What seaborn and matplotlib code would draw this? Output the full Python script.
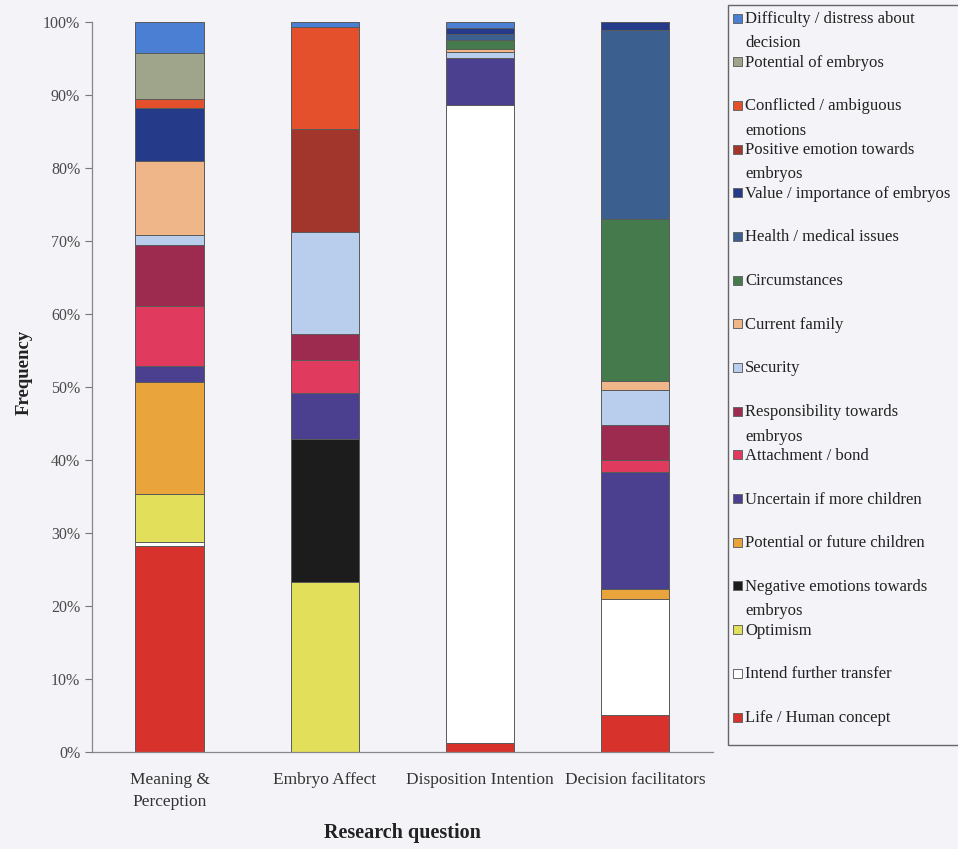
import matplotlib
matplotlib.use("Agg")
import matplotlib.pyplot as plt
import seaborn as sns
import numpy as np
from matplotlib.patches import Rectangle

# --- data (percent of coded responses per research question) ---
categories = ["Meaning &\nPerception", "Embryo Affect", "Disposition Intention", "Decision facilitators"]

# legend order, top to bottom
themes = [
    "Difficulty / distress about\ndecision",
    "Potential of embryos",
    "Conflicted / ambiguous\nemotions",
    "Positive emotion towards\nembryos",
    "Value / importance of embryos",
    "Health / medical issues",
    "Circumstances",
    "Current family",
    "Security",
    "Responsibility towards\nembryos",
    "Attachment / bond",
    "Uncertain if more children",
    "Potential or future children",
    "Negative emotions towards\nembryos",
    "Optimism",
    "Intend further transfer",
    "Life / Human concept",
]

difficulty = [4.3, 0.7, 0.8, 0.0]
potential_embryos = [6.2, 0.0, 0.0, 0.0]
conflicted = [1.2, 13.9, 0.0, 0.0]
positive = [0.0, 14.1, 0.0, 0.0]
value = [7.3, 0.0, 0.9, 1.1]
health = [0.0, 0.0, 0.7, 25.9]
circumstances = [0.0, 0.0, 1.3, 22.1]
current_family = [10.2, 0.0, 0.4, 1.3]
security = [1.3, 14.0, 0.8, 4.8]
responsibility = [8.4, 3.6, 0.0, 4.8]
attachment = [8.2, 4.5, 0.0, 1.6]
uncertain = [2.2, 6.3, 6.5, 16.0]
future_children = [15.3, 0.0, 0.0, 1.4]
negative = [0.0, 19.6, 0.0, 0.0]
optimism = [6.6, 23.3, 0.0, 0.0]
intend_transfer = [0.6, 0.0, 87.4, 15.9]
life = [28.2, 0.0, 1.2, 5.1]

series = [difficulty, potential_embryos, conflicted, positive, value, health,
          circumstances, current_family, security, responsibility, attachment,
          uncertain, future_children, negative, optimism, intend_transfer, life]

colors = ["#4a7fd4", "#9ea58a", "#e5502c", "#a3362c", "#263a8a", "#3b5f8f",
          "#457a4d", "#efb68a", "#b9cdec", "#9c2b4f", "#e03a5e", "#4b3f8f",
          "#e9a53c", "#1c1c1c", "#e2df5a", "#ffffff", "#d8322c"]

bg = "#f3f3f8"

sns.set_style("white")
plt.rcParams["font.family"] = ["Liberation Serif", "DejaVu Serif"]

fig = plt.figure(figsize=(9.58, 8.49), dpi=100, facecolor=bg)
ax = fig.add_axes([0.096, 0.114, 0.648, 0.860])
ax.set_facecolor(bg)

vals = np.array(series, dtype=float)
vals = vals / vals.sum(axis=0) * 100
x = np.arange(len(categories))

# stack from the bottom (last legend entry) upwards
bottom = np.zeros(len(categories))
for i in range(len(series) - 1, -1, -1):
    sns.barplot(x=x, y=vals[i], bottom=bottom, color=colors[i], width=0.44,
                edgecolor="#5a5a5a", linewidth=0.7, saturation=1, ax=ax,
                native_scale=True)
    bottom += vals[i]

ax.set_xlim(-0.5, 3.5)
ax.set_ylim(0, 100)
ax.set_yticks(np.arange(0, 101, 10))
ax.set_yticklabels([f"{v}%" for v in range(0, 101, 10)], fontsize=11.5, color="#4a4a4a")
ax.set_xticks(x)
ax.set_xticklabels(categories, fontsize=12.5, color="#333333", linespacing=1.5)
ax.set_xticks(np.arange(-0.5, 3.6, 1), minor=True)
ax.tick_params(axis="x", which="major", length=0, pad=14)
ax.tick_params(axis="x", which="minor", length=5, color="#777777", direction="out")
ax.tick_params(axis="y", length=5, color="#777777", direction="out", left=True)

for s in ["top", "right"]:
    ax.spines[s].set_visible(False)
for s in ["left", "bottom"]:
    ax.spines[s].set_color("#888888")
    ax.spines[s].set_linewidth(0.9)

ax.set_ylabel("Frequency", fontsize=13.5, fontweight="bold", color="#222222")
ax.yaxis.set_label_coords(-0.096, 0.52)
ax.set_xlabel("Research question", fontsize=14.5, fontweight="bold", color="#222222")
ax.xaxis.set_label_coords(0.5, -0.097)

# --- legend box drawn on the figure ---
W, H = 958, 849
fig.add_artist(Rectangle((728 / W, 1 - 745 / H), 240 / W, 740 / H, transform=fig.transFigure,
                         facecolor=bg, edgecolor="#666666", linewidth=1.0))
step = (717 - 18) / 16
for i, (lab, col) in enumerate(zip(themes, colors)):
    yc = 18 + i * step
    fig.add_artist(Rectangle((733 / W, 1 - (yc + 4.5) / H), 9 / W, 9 / H,
                             transform=fig.transFigure, facecolor=col,
                             edgecolor="#666666", linewidth=0.7))
    fig.text(745 / W, 1 - (yc - 7) / H, lab, fontsize=12, va="top", ha="left",
             color="#222222", linespacing=1.7)

fig.savefig("out.png", dpi=100, facecolor=bg)
